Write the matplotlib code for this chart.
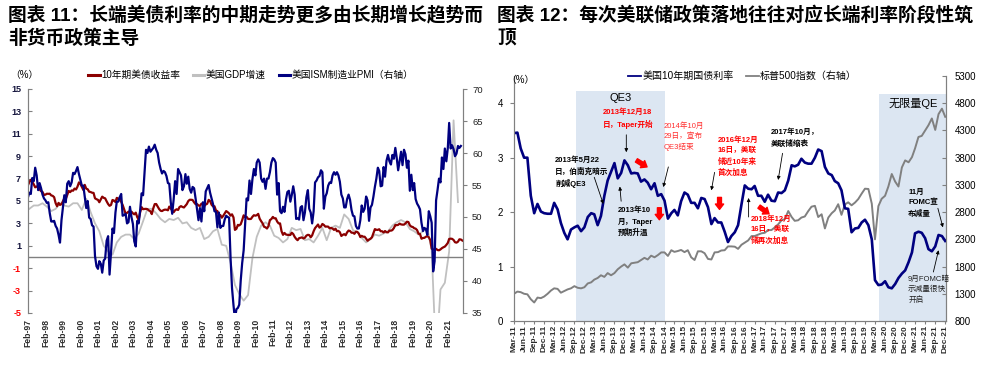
import matplotlib
matplotlib.use("Agg")
import matplotlib.pyplot as plt
import pandas as pd

plt.rcParams['font.family'] = ['Liberation Sans', 'Noto Sans CJK SC']

# 10年期美债收益率, monthly, Feb-97 .. Dec-21
yld = [
    6.42, 6.69, 6.89, 6.71, 6.49, 6.22, 6.30, 6.21, 6.03, 5.88, 5.81,
    5.54, 5.57, 5.65, 5.64, 5.65, 5.50, 5.46, 5.34, 4.81, 4.53, 4.83, 4.65,
    4.72, 5.00, 5.23, 5.18, 5.54, 5.90, 5.79, 5.94, 5.92, 6.11, 6.03, 6.28,
    6.66, 6.52, 6.26, 5.99, 6.44, 6.10, 6.05, 5.83, 5.80, 5.74, 5.72, 5.24,
    5.16, 5.10, 4.89, 5.14, 5.39, 5.28, 5.24, 4.97, 4.73, 4.57, 4.65, 5.09,
    5.04, 4.91, 5.28, 5.21, 5.16, 4.93, 4.65, 4.26, 3.87, 3.94, 4.05, 4.03,
    4.05, 3.90, 3.81, 3.96, 3.57, 3.33, 3.98, 4.45, 4.27, 4.29, 4.30, 4.27,
    4.15, 4.08, 3.83, 4.35, 4.72, 4.73, 4.50, 4.28, 4.13, 4.10, 4.19, 4.23,
    4.22, 4.17, 4.50, 4.34, 4.14, 4.00, 4.18, 4.26, 4.20, 4.46, 4.54, 4.47,
    4.42, 4.57, 4.72, 4.99, 5.11, 5.11, 5.09, 4.88, 4.72, 4.73, 4.60, 4.56,
    4.76, 4.72, 4.56, 4.69, 4.75, 5.10, 5.00, 4.67, 4.52, 4.53, 4.15, 4.10,
    3.74, 3.74, 3.51, 3.68, 3.88, 4.10, 4.01, 3.89, 3.69, 3.81, 3.53, 2.42,
    2.52, 2.87, 2.82, 2.93, 3.29, 3.72, 3.56, 3.59, 3.40, 3.39, 3.40, 3.59,
    3.73, 3.69, 3.73, 3.85, 3.42, 3.20, 3.01, 2.70, 2.65, 2.54, 2.76, 3.29,
    3.39, 3.58, 3.45, 3.46, 3.17, 3.00, 3.00, 2.30, 1.98, 2.15, 2.01, 1.98,
    1.97, 1.97, 2.17, 2.05, 1.80, 1.62, 1.50, 1.68, 1.72, 1.75, 1.65, 1.72,
    1.91, 1.98, 1.96, 1.76, 1.93, 2.30, 2.58, 2.74, 2.90, 2.62, 2.72, 2.95,
    2.86, 2.71, 2.72, 2.71, 2.56, 2.60, 2.54, 2.42, 2.53, 2.30, 2.33, 2.21,
    1.88, 1.98, 2.04, 1.94, 2.20, 2.36, 2.32, 2.17, 2.17, 2.07, 2.26, 2.24,
    2.09, 1.78, 1.89, 1.81, 1.81, 1.64, 1.45, 1.56, 1.63, 1.76, 2.14, 2.49,
    2.43, 2.42, 2.48, 2.30, 2.30, 2.19, 2.32, 2.21, 2.20, 2.36, 2.35, 2.40,
    2.58, 2.86, 2.84, 2.87, 2.98, 2.91, 2.89, 2.89, 3.00, 3.15, 3.12, 2.83,
    2.71, 2.68, 2.57, 2.53, 2.40, 2.07, 2.06, 1.63, 1.70, 1.71, 1.81, 1.86,
    1.76, 1.50, 0.75, 0.66, 0.67, 0.73, 0.62, 0.60, 0.68, 0.79, 0.87, 0.93,
    1.08, 1.26, 1.61, 1.64, 1.62, 1.52, 1.32, 1.28, 1.37, 1.58, 1.56, 1.47,
]

# 美国ISM制造业PMI, monthly, Feb-97 .. Nov-21
pmi = [
    53.1, 53.8, 53.6, 56.1, 55.6, 57.7, 56.5, 54.2, 55.3, 54.5, 53.5,
    52.9, 52.6, 52.2, 52.3, 50.6, 49.3, 49.3, 49.4, 48.6, 48.2, 47.2, 46.0,
    49.5, 51.6, 53.4, 52.3, 55.2, 55.6, 54.8, 55.4, 56.9, 56.7, 57.2, 57.8,
    56.7, 55.8, 54.9, 54.9, 53.2, 51.4, 52.5, 49.9, 49.7, 48.7, 48.5, 43.9,
    42.3, 41.9, 43.1, 42.7, 41.3, 43.2, 43.5, 46.3, 47.0, 41.0, 44.5, 48.2,
    47.5, 50.7, 52.4, 52.4, 53.1, 53.6, 50.2, 50.3, 50.5, 49.0, 49.2, 51.6,
    50.0, 48.9, 46.2, 45.4, 49.4, 49.0, 51.0, 53.7, 53.4, 57.0, 60.5, 60.0,
    61.0, 60.2, 60.5, 60.8, 61.3, 60.5, 60.0, 58.5, 57.5, 56.8, 57.2, 57.0,
    56.4, 55.3, 55.2, 52.3, 50.5, 52.8, 55.6, 53.6, 57.5, 57.0, 56.5, 54.2,
    54.8, 56.7, 55.2, 56.3, 54.4, 53.8, 54.7, 54.5, 52.9, 51.2, 49.5, 51.4,
    49.3, 52.3, 50.9, 54.0, 54.5, 55.0, 53.8, 52.9, 52.0, 50.9, 50.8, 48.4,
    50.7, 48.3, 48.6, 48.6, 49.6, 50.2, 50.0, 49.9, 43.5, 38.9, 36.2, 34.0,
    35.6, 35.8, 36.3, 40.1, 42.8, 44.8, 48.9, 52.9, 52.6, 55.7, 53.6, 55.9,
    57.5, 56.5, 58.5, 59.0, 58.5, 56.0, 55.5, 56.0, 54.4, 56.0, 56.0, 57.0,
    58.5, 59.2, 59.0, 58.5, 53.5, 55.3, 50.9, 50.6, 51.6, 50.8, 52.7, 53.9,
    54.1, 52.4, 53.4, 54.8, 53.5, 49.7, 49.8, 49.6, 51.5, 51.7, 49.5, 50.7,
    53.1, 54.2, 51.3, 50.7, 49.0, 50.9, 55.4, 55.7, 56.2, 56.4, 57.3, 57.0,
    51.3, 53.2, 53.7, 54.9, 55.4, 55.3, 56.5, 57.0, 56.6, 57.0, 56.5, 55.5,
    53.5, 52.9, 51.5, 51.5, 52.8, 53.5, 52.7, 51.1, 50.2, 50.1, 48.6, 48.2,
    48.2, 49.5, 51.8, 50.8, 51.3, 53.2, 52.6, 49.4, 51.5, 51.9, 53.2, 54.7,
    56.0, 57.7, 57.2, 54.8, 54.9, 57.8, 56.3, 58.8, 59.7, 58.7, 58.2, 59.7,
    59.1, 60.8, 59.3, 57.3, 58.7, 60.2, 58.1, 60.5, 59.8, 57.7, 58.8, 54.1,
    56.6, 54.2, 55.3, 52.8, 52.1, 51.7, 51.2, 49.1, 47.8, 48.3, 48.1, 47.2,
    50.9, 50.1, 49.1, 41.5, 43.1, 52.6, 54.2, 56.0, 55.4, 59.3, 57.5, 60.7,
    58.7, 60.8, 64.7, 60.7, 61.2, 60.6, 59.5, 59.9, 61.1, 60.8, 61.1,
]

# 美国GDP增速 (yoy), quarterly, 97Q1 .. 21Q3
gdp = [
    4.3, 4.6, 4.6, 4.8, 4.5, 4.1, 4.3, 4.8, 4.6, 4.5, 4.8, 4.8,
    4.2, 5.2, 4.0, 3.0, 2.3, 1.0, 0.5, 0.2, 1.3, 1.8, 2.0, 2.0,
    1.6, 2.1, 3.2, 4.3, 4.3, 3.9, 3.4, 3.1, 3.4, 3.3, 3.5, 3.0,
    3.1, 2.6, 2.4, 2.6, 1.6, 1.8, 2.3, 2.5, 1.1, 1.0, -0.5, -2.5,
    -3.3, -3.9, -3.4, -0.1, 1.8, 2.8, 3.1, 2.8, 1.9, 1.7, 1.3, 1.6,
    2.6, 2.4, 2.5, 1.5, 1.6, 1.3, 1.9, 2.6, 1.5, 2.6, 2.8, 2.6,
    3.8, 3.4, 2.4, 2.2, 1.7, 1.3, 1.6, 2.0, 1.9, 2.1, 2.3, 2.8,
    3.1, 3.3, 3.1, 2.5, 2.3, 2.0, 2.3, 2.6, 0.6, -9.1, -2.9, -2.3,
    0.5, 12.2, 4.9,
]

# 标普500指数, monthly, Mar-11 .. Dec-21
spx = [
    1300, 1340, 1330, 1300, 1290, 1200, 1140, 1230, 1220, 1250,
    1300, 1360, 1400, 1390, 1320, 1350, 1380, 1400, 1440, 1410, 1400, 1420,
    1490, 1510, 1560, 1590, 1640, 1610, 1680, 1640, 1680, 1750, 1800, 1840,
    1780, 1860, 1870, 1880, 1920, 1960, 1930, 2000, 1970, 2010, 2060, 2060,
    1995, 2100, 2070, 2085, 2105, 2065, 2100, 1970, 1920, 2080, 2080, 2045,
    1940, 1930, 2060, 2065, 2095, 2100, 2170, 2170, 2165, 2125, 2200, 2240,
    2280, 2360, 2360, 2385, 2410, 2420, 2470, 2470, 2520, 2575, 2650, 2670,
    2820, 2710, 2640, 2650, 2700, 2720, 2815, 2900, 2915, 2710, 2760, 2500,
    2700, 2780, 2830, 2945, 2750, 2940, 2980, 2925, 2975, 3040, 3140, 3230,
    3225, 2955, 2300, 2910, 3045, 3100, 3270, 3500, 3360, 3270, 3620, 3750,
    3715, 3810, 3970, 4180, 4200, 4300, 4395, 4520, 4310, 4600, 4700, 4550,
]

yld_dates = pd.date_range("1997-02-01", periods=len(yld), freq="MS")
pmi_dates = pd.date_range("1997-02-01", periods=len(pmi), freq="MS")
gdp_dates = pd.date_range("1997-03-01", periods=len(gdp), freq="3MS")
spx_dates = pd.date_range("2011-03-01", periods=len(spx), freq="MS")

yld_s = pd.Series(yld, index=yld_dates)
yld_r = yld_s[yld_s.index >= "2011-03-01"]

NAVY = "#000080"
DARKRED = "#8b0000"
GRID = "#808080"

W, H = 984, 365
fig = plt.figure(figsize=(W / 100, H / 100), dpi=100)

# titles
fig.text(8 / W, 1 - 6 / H, "图表 11：长端美债利率的中期走势更多由长期增长趋势而\n非货币政策主导",
         fontsize=13.5, fontweight="bold", va="top", ha="left", linespacing=1.3)
fig.text(497 / W, 1 - 6 / H, "图表 12：每次美联储政策落地往往对应长端利率阶段性筑\n顶",
         fontsize=13.5, fontweight="bold", va="top", ha="left", linespacing=1.3)

# ---------- left chart ----------
ax1 = fig.add_axes([28 / W, 52 / H, 435 / W, 224 / H])
l_gdp, = ax1.plot(gdp_dates, gdp, color="#c0c0c0", lw=1.3)
l_y1, = ax1.plot(yld_dates, yld, color=DARKRED, lw=1.6)
ax1.axhline(0, color=GRID, lw=1)
ax1b = ax1.twinx()
l_pmi, = ax1b.plot(pmi_dates, pmi, color=NAVY, lw=1.6)

ax1.set_xlim(pd.Timestamp("1997-02-01"), pd.Timestamp("2021-12-15"))
ax1.set_ylim(-5, 15)
left_ticks = list(range(-5, 16, 2))
ax1.set_yticks(left_ticks)
ax1.set_yticklabels([str(v) for v in left_ticks], fontsize=6.5, fontweight="bold")
for lbl, v in zip(ax1.get_yticklabels(), left_ticks):
    lbl.set_color("red" if v < 0 else "#14143c")
ax1b.set_ylim(35, 70)
ax1b.set_yticks(range(35, 71, 5))
ax1b.tick_params(axis="y", labelsize=6.8, colors="#222222", length=3, direction="out")
ax1.tick_params(axis="y", length=3, direction="in", pad=5)

feb_ticks = [pd.Timestamp(f"{y}-02-01") for y in range(1997, 2022)]
ax1.set_xticks(feb_ticks)
ax1.set_xticklabels([d.strftime("%b-%y") for d in feb_ticks], rotation=90,
                    fontsize=6.2, fontweight="bold", color="#2b2b2b")
ax1.tick_params(axis="x", length=0, pad=4)
for a in (ax1, ax1b):
    a.spines["top"].set_visible(False)
    a.spines["bottom"].set_visible(False)
    a.spines["left"].set_color(GRID)
    a.spines["right"].set_color(GRID)
ax1.tick_params(axis="y", color=GRID)
ax1b.tick_params(axis="y", color=GRID)
for lbl in ax1b.get_yticklabels():
    lbl.set_color("#222222")

fig.text(10 / W, 1 - 75 / H, "（%）", fontsize=7, va="center", ha="left")
leg1 = ax1b.legend([l_y1, l_gdp, l_pmi], ["10年期美债收益率", "美国GDP增速", "美国ISM制造业PMI（右轴）"],
                   ncol=3, loc="center left", bbox_to_anchor=(88 / W, 1 - 75 / H),
                   bbox_transform=fig.transFigure, frameon=False, fontsize=7,
                   handlelength=1.2, handletextpad=0.15, columnspacing=1.3,
                   borderpad=0, borderaxespad=0)
for h in leg1.get_lines():
    h.set_linewidth(2.2)

# ---------- right chart ----------
ax2 = fig.add_axes([514 / W, 44 / H, 432 / W, 245 / H])
ax2s = ax2.twinx()
ax2.set_zorder(ax2s.get_zorder() + 1)
ax2.patch.set_visible(False)

ax2s.axvspan(pd.Timestamp("2012-09-20"), pd.Timestamp("2014-12-01"), ymin=0, ymax=0.939,
             color="#dce6f2", lw=0)
ax2s.axvspan(pd.Timestamp("2020-04-10"), pd.Timestamp("2021-12-15"), ymin=0, ymax=0.927,
             color="#dce6f2", lw=0)
l_sp, = ax2s.plot(spx_dates, spx, color="#808080", lw=1.4)
l_y2, = ax2.plot(yld_r.index, yld_r.values, color=NAVY, lw=1.9)

ax2.set_xlim(pd.Timestamp("2011-03-01"), pd.Timestamp("2021-12-08"))
ax2.set_ylim(0, 4.5)
ax2.set_yticks(range(0, 5))
ax2s.set_ylim(800, 5300)
ax2s.set_yticks(range(800, 5301, 500))
q_ticks = pd.date_range("2011-03-01", "2021-12-01", freq="3MS")
ax2.set_xticks(q_ticks)
ax2.set_xticklabels([d.strftime("%b-%y") for d in q_ticks], rotation=90,
                    fontsize=6, fontweight="bold", color="#2b2b2b")
ax2.tick_params(axis="x", length=2, pad=1, color=GRID)
ax2.tick_params(axis="y", labelsize=7, length=3, direction="out", color=GRID, pad=5)
ax2s.tick_params(axis="y", labelsize=7, length=3, direction="in", color=GRID, pad=6)
for a in (ax2, ax2s):
    a.spines["top"].set_visible(False)
    for s in ("left", "right", "bottom"):
        a.spines[s].set_color(GRID)

fig.text(506 / W, 1 - 80 / H, "（%）", fontsize=7, va="center", ha="left")
leg2 = ax2.legend([l_y2, l_sp], ["美国10年期国债利率", "标普500指数（右轴）"],
                  ncol=2, loc="center left", bbox_to_anchor=(628 / W, 1 - 76 / H),
                  bbox_transform=fig.transFigure, frameon=False, fontsize=7.2,
                  handlelength=1.3, handletextpad=0.15, columnspacing=1.2,
                  borderpad=0, borderaxespad=0)
for h in leg2.get_lines():
    h.set_linewidth(1.3)

ax2.text(pd.Timestamp("2013-10-25"), 4.09, "QE3", fontsize=8, ha="center", va="center")
ax2.text(pd.Timestamp("2021-02-10"), 4.0, "无限量QE", fontsize=8, ha="center", va="center")

# annotation texts: (text, date, top value, colour, weight)
notes = [
    ("2013年12月18\n日，Taper开始", "2013-05-22", 3.90, "red", "bold"),
    ("2013年5月22\n日，伯南克暗示\n削减QE3", "2012-03-10", 3.02, "black", "bold"),
    ("2013年10\n月，Taper\n预期升温", "2013-09-28", 2.10, "black", "bold"),
    ("2014年10月\n29日，宣布\nQE3结束", "2014-11-20", 3.66, "#ff3030", "normal"),
    ("2016年12月\n16日，美联\n储近10年来\n首次加息", "2016-04-01", 3.39, "red", "bold"),
    ("2017年10月，\n美联储缩表", "2017-07-25", 3.53, "black", "bold"),
    ("2018年12月\n16日，美联\n储再次加息", "2017-01-25", 1.94, "red", "bold"),
    ("11月\nFOMC宣\n布减量", "2020-12-28", 2.43, "black", "bold"),
    ("9月FOMC暗\n示减量很快\n开启", "2020-12-28", 0.84, "#222222", "normal"),
]
for txt, d, v, c, w in notes:
    ax2.text(pd.Timestamp(d), v, txt, fontsize=5.5, color=c, fontweight=w,
             ha="left", va="top", linespacing=1.55)

# thin pointer arrows: (tail date, tail value, tip date, tip value)
pointers = [
    ("2013-12-18", 3.42, "2013-12-18", 3.10),
    ("2013-03-01", 2.64, "2013-05-22", 2.15),
    ("2013-11-01", 2.20, "2013-10-20", 2.47),
    ("2015-01-05", 2.83, "2014-11-20", 2.46),
    ("2016-03-01", 2.73, "2016-02-01", 2.40),
    ("2017-01-05", 1.91, "2017-01-05", 2.26),
    ("2017-11-10", 3.08, "2017-10-01", 2.59),
    ("2021-09-25", 2.07, "2021-11-10", 1.72),
    ("2021-08-15", 0.90, "2021-10-01", 1.30),
]
for d0, v0, d1, v1 in pointers:
    ax2.annotate("", xy=(pd.Timestamp(d1), v1), xytext=(pd.Timestamp(d0), v0),
                 arrowprops=dict(arrowstyle="-|>", color="black", lw=0.6,
                                 mutation_scale=5, shrinkA=0, shrinkB=0))

# red block arrows
blocks = [
    ("2014-03-20", 2.95, "2014-06-25", 2.83),
    ("2014-10-15", 2.08, "2014-10-15", 1.86),
    ("2016-04-15", 2.27, "2016-04-15", 2.05),
    ("2017-04-10", 2.10, "2017-07-10", 1.97),
]
for d0, v0, d1, v1 in blocks:
    ax2.annotate("", xy=(pd.Timestamp(d1), v1), xytext=(pd.Timestamp(d0), v0),
                 arrowprops=dict(arrowstyle="simple,head_length=0.55,head_width=0.85,tail_width=0.4",
                                 color="red", mutation_scale=7, shrinkA=0, shrinkB=0))

fig.savefig("out.png", dpi=100)
